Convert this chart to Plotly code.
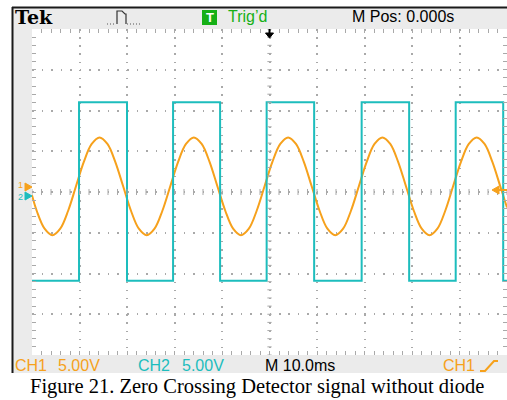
import plotly.graph_objects as go

# ---------------- data ----------------
# time in ms (M Pos 0.000 s at centre, 10 ms/div), volts (5 V/div)
ch1_time = [-50.0, -49.01, -47.35, -45.70, -44.05, -42.39, -40.74, -39.09, -37.43, -35.78,
            -34.12, -32.47, -30.81, -29.16, -27.51, -25.85, -24.20, -22.55, -20.89, -19.24,
            -17.58, -15.93, -14.28, -12.62, -10.97, -9.31, -7.66, -6.01, -4.35, -2.70,
            -1.04, 0.61, 2.27, 3.92, 5.57, 7.23, 8.88, 10.54, 12.19, 13.84,
            15.50, 17.15, 18.81, 20.46, 22.11, 23.77, 25.42, 27.08, 28.73, 30.38,
            32.04, 33.69, 35.35, 37.00, 38.65, 40.31, 41.96, 43.62, 45.27, 46.92,
            48.58, 50.0]
ch1_volts = [-0.4, -2.3, -4.5, -5.3, -4.5, -2.3, 0.7, 3.7, 5.9, 6.7,
             5.9, 3.7, 0.7, -2.3, -4.5, -5.3, -4.5, -2.3, 0.7, 3.7,
             5.9, 6.7, 5.9, 3.7, 0.7, -2.3, -4.5, -5.3, -4.5, -2.3,
             0.7, 3.7, 5.9, 6.7, 5.9, 3.7, 0.7, -2.3, -4.5, -5.3,
             -4.5, -2.3, 0.7, 3.7, 5.9, 6.7, 5.9, 3.7, 0.7, -2.3,
             -4.5, -5.3, -4.5, -2.3, 0.7, 3.7, 5.9, 6.7, 5.9, 3.7,
             0.7, -1.9]

ch2_time = [-50.0, -40.1, -30.0, -20.3, -10.4, -0.6, 9.4, 19.4, 29.4, 39.2, 49.2, 50.0]
ch2_volts = [-10.9, 11.0, -10.9, 11.0, -10.9, 11.0, -10.9, 11.0, -10.9, 11.0, -10.9, -10.9]

x_range = [-50, 50]   # ms
y_range = [-20, 20]   # V

ORANGE = "#f6a11c"
CYAN = "#1dbdbd"
GREEN = "#16b016"
GRID = "#a9a9a9"

# ---------------- geometry helpers (pixels -> paper) ----------------
W, H = 507, 400
L, R, T, B = 32, 507, 29, 355


def px(x):
    return (x - L) / (R - L)


def py(y):
    return (B - y) / (B - T)


fig = go.Figure()
fig.add_trace(go.Scatter(x=ch1_time, y=ch1_volts, mode="lines",
                         line=dict(color=ORANGE, width=2, shape="spline", smoothing=1.0),
                         hoverinfo="skip", showlegend=False))
fig.add_trace(go.Scatter(x=ch2_time, y=ch2_volts, mode="lines",
                         line=dict(color=CYAN, width=2, shape="hv"),
                         hoverinfo="skip", showlegend=False))

shapes = []
# gray bezel + white screen
shapes.append(dict(type="rect", xref="paper", yref="paper", layer="below",
                   x0=px(13), x1=px(507), y0=py(373), y1=py(8),
                   fillcolor="#ebebeb", line=dict(width=0)))
shapes.append(dict(type="rect", xref="paper", yref="paper", layer="below",
                   x0=0, x1=1, y0=0, y1=1, fillcolor="white", line=dict(width=0)))
# dark frame (top and left)
shapes.append(dict(type="line", xref="paper", yref="paper",
                   x0=px(12), x1=px(507), y0=py(7.5), y1=py(7.5),
                   line=dict(color="#1a1a1a", width=2)))
shapes.append(dict(type="line", xref="paper", yref="paper",
                   x0=px(12.5), x1=px(12.5), y0=py(7), y1=py(373),
                   line=dict(color="#1a1a1a", width=2)))

# centre cross tick marks
hx = 0.45  # ms half width of ticks on centre vertical
pv = []
yv = y_range[0]
while yv <= y_range[1] + 1e-9:
    pv.append(f"M{-hx},{yv}H{hx}")
    yv += 1.0
shapes.append(dict(type="path", xref="x", yref="y", path="".join(pv),
                   line=dict(color=GRID, width=1)))
hy = 0.37  # V half height of ticks on centre horizontal
ph = []
xv = x_range[0]
while xv <= x_range[1] + 1e-9:
    ph.append(f"M{xv},{-hy}V{hy}")
    xv += 2.0
shapes.append(dict(type="path", xref="x", yref="y", path="".join(ph),
                   line=dict(color=GRID, width=1)))


def ppath(pts, close=False):
    s = "M" + "L".join(f"{px(a)},{py(b)}" for a, b in pts)
    return s + ("Z" if close else "")


# trigger position arrow (top, black)
shapes.append(dict(type="line", xref="paper", yref="paper",
                   x0=px(269.5), x1=px(269.5), y0=py(29), y1=py(34),
                   line=dict(color="black", width=2)))
shapes.append(dict(type="path", xref="paper", yref="paper",
                   path=ppath([(265.5, 33), (273.5, 33), (269.5, 38)], True),
                   fillcolor="black", line=dict(color="black", width=1)))
# trigger level arrow (right, orange)
shapes.append(dict(type="path", xref="paper", yref="paper",
                   path=ppath([(492, 190), (499, 186), (499, 194)], True),
                   fillcolor=ORANGE, line=dict(color=ORANGE, width=1)))
shapes.append(dict(type="line", xref="paper", yref="paper",
                   x0=px(498), x1=px(507), y0=py(190), y1=py(190),
                   line=dict(color=ORANGE, width=2)))
# channel ground markers (left)
shapes.append(dict(type="path", xref="paper", yref="paper",
                   path=ppath([(25, 183), (32, 187), (25, 191)], True),
                   fillcolor=ORANGE, line=dict(color=ORANGE, width=1)))
shapes.append(dict(type="path", xref="paper", yref="paper",
                   path=ppath([(25, 192), (32, 196), (25, 200)], True),
                   fillcolor=CYAN, line=dict(color=CYAN, width=1)))
# acquisition pulse icon
shapes.append(dict(type="path", xref="paper", yref="paper",
                   path=ppath([(117, 24), (117, 11), (122, 11), (125, 14), (126, 14), (126, 24)]),
                   line=dict(color="#333333", width=1.2)))
shapes.append(dict(type="line", xref="paper", yref="paper",
                   x0=px(107), x1=px(116), y0=py(24), y1=py(24),
                   line=dict(color="#555555", width=1.2, dash="1px,2px")))
shapes.append(dict(type="line", xref="paper", yref="paper",
                   x0=px(127), x1=px(141), y0=py(24), y1=py(24),
                   line=dict(color="#555555", width=1.2, dash="1px,2px")))
# green trigger box
shapes.append(dict(type="rect", xref="paper", yref="paper",
                   x0=px(202), x1=px(217), y0=py(25), y1=py(10),
                   fillcolor=GREEN, line=dict(width=0)))
# trigger slope symbol
shapes.append(dict(type="path", xref="paper", yref="paper",
                   path=ppath([(480, 371), (485, 371), (494, 361), (498, 361)]),
                   line=dict(color=ORANGE, width=2)))


def ann(text, x, y, color="black", size=16, family="Liberation Sans, Arial, sans-serif",
        xanchor="left", bold=False):
    t = f"<b>{text}</b>" if bold else text
    return dict(text=t, x=px(x), y=py(y), xref="paper", yref="paper",
                xanchor=xanchor, yanchor="middle", showarrow=False,
                font=dict(color=color, size=size, family=family), borderpad=0)


annotations = [
    ann("Tek", 14, 17, size=19, family="DejaVu Serif, serif", bold=True),
    ann("T", 209.5, 17.5, color="white", size=13, xanchor="center", bold=True),
    ann("Trig’d", 227, 17, color=GREEN),
    ann("M Pos: 0.000s", 351, 17),
    ann("CH1", 14, 365, color=ORANGE),
    ann("5.00V", 57, 365, color=ORANGE),
    ann("CH2", 137, 365, color=CYAN),
    ann("5.00V", 181, 365, color=CYAN),
    ann("M 10.0ms", 264, 365),
    ann("CH1", 442, 365, color=ORANGE),
    ann("1", 17, 185, color=ORANGE, size=9),
    ann("2", 17, 197, color=CYAN, size=9),
    ann("Figure 21. Zero Crossing Detector signal without diode", 257, 386,
        size=20.5, family="Liberation Serif, Times New Roman, serif", xanchor="center"),
]

axis_common = dict(showticklabels=False, zeroline=False, showline=False,
                   ticks="inside", ticklen=4, tickcolor=GRID, tickwidth=1,
                   mirror="allticks", gridcolor=GRID, gridwidth=1.5, fixedrange=True)

fig.update_layout(
    width=W, height=H,
    margin=dict(l=L, r=W - R, t=T, b=H - B),
    paper_bgcolor="white", plot_bgcolor="white",
    xaxis=dict(range=x_range, dtick=10, tick0=0, griddash="1.5px,6.65px",
               minor=dict(dtick=2, ticks="inside", ticklen=4, tickcolor=GRID, showgrid=False),
               **axis_common),
    yaxis=dict(range=y_range, dtick=5, tick0=0, griddash="1.5px,8px",
               minor=dict(dtick=1, ticks="inside", ticklen=4, tickcolor=GRID, showgrid=False),
               **axis_common),
    shapes=shapes,
    annotations=annotations,
    showlegend=False,
)

fig.write_html("out.html", config={"displayModeBar": False},
               post_script="document.body.style.margin='0';")
